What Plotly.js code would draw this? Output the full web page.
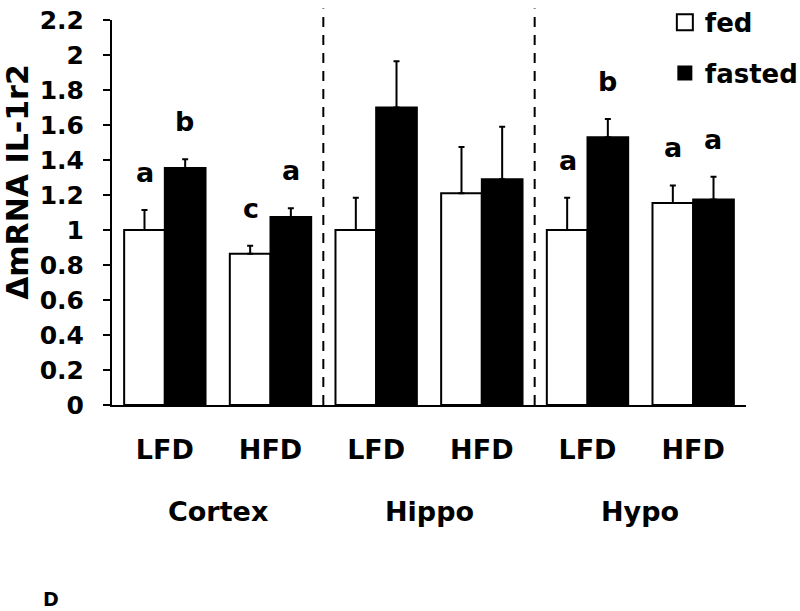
<!DOCTYPE html>
<html>
<head>
<meta charset="utf-8">
<script src="https://cdn.plot.ly/plotly-3.0.1.min.js"></script>
<style>
  html, body { margin: 0; padding: 0; background: white; }
  #chart { width: 800px; height: 611px; }
</style>
</head>
<body>
<div id="chart"></div>
<script>
// categories: region x diet
const regions = ['Cortex', 'Hippo', 'Hypo'];
const diets = ['LFD', 'HFD'];
const categories = ['Cortex LFD', 'Cortex HFD', 'Hippo LFD', 'Hippo HFD', 'Hypo LFD', 'Hypo HFD'];
const tickLabels = ['LFD', 'HFD', 'LFD', 'HFD', 'LFD', 'HFD'];

// delta mRNA IL-1r2 values
const fedValues = [1.00, 0.865, 1.00, 1.21, 1.00, 1.155];
const fedErrors = [0.115, 0.045, 0.185, 0.265, 0.185, 0.10];
const fastedValues = [1.355, 1.075, 1.70, 1.29, 1.53, 1.175];
const fastedErrors = [0.05, 0.05, 0.265, 0.30, 0.105, 0.13];

// significance letters
const fedLetters = ['a', 'c', '', '', 'a', 'a'];
const fastedLetters = ['b', 'a', '', '', 'b', 'a'];

// where the dashed dividers sit (between categories)
const dividers = [1.5, 3.5];
const regionCenters = [0.5, 2.5, 4.5];

const FONT = 'DejaVu Sans, Verdana, sans-serif';

const zeros = categories.map(() => 0);

const data = [
    {
        type: 'bar',
        x: categories,
        y: fedValues,
        name: 'fed',
        showlegend: false,
        marker: { color: 'white', line: { color: 'black', width: 2 } },
        error_y: { type: 'data', array: fedErrors, arrayminus: zeros, symmetric: false,
                   color: 'black', thickness: 2, width: 3 }
    },
    {
        type: 'bar',
        x: categories,
        y: fastedValues,
        name: 'fasted',
        showlegend: false,
        marker: { color: 'black', line: { color: 'black', width: 2 } },
        error_y: { type: 'data', array: fastedErrors, arrayminus: zeros, symmetric: false,
                   color: 'black', thickness: 2, width: 3 }
    },
    // legend-only entries, to get the bigger square symbols
    {
        type: 'scatter', mode: 'markers', x: [null], y: [null], name: 'fed',
        legendgroup: 'fed',
        marker: { symbol: 'square', size: 16, color: 'white', line: { color: 'black', width: 2 } }
    },
    {
        type: 'scatter', mode: 'markers', x: [null], y: [null], name: 'fasted',
        legendgroup: 'fasted',
        marker: { symbol: 'square', size: 15, color: 'black', line: { color: 'black', width: 0 } }
    }
];

const annotations = [];
categories.forEach((c, i) => {
    if (fedLetters[i]) {
        annotations.push({
            x: c, y: fedValues[i] + fedErrors[i], xref: 'x', yref: 'y',
            text: fedLetters[i], showarrow: false, xshift: -20, yanchor: 'bottom', yshift: 20,
            font: { family: FONT, size: 27, color: 'black', weight: 'bold' }
        });
    }
    if (fastedLetters[i]) {
        annotations.push({
            x: c, y: fastedValues[i] + fastedErrors[i], xref: 'x', yref: 'y',
            text: fastedLetters[i], showarrow: false, xshift: 20, yanchor: 'bottom', yshift: 20,
            font: { family: FONT, size: 27, color: 'black', weight: 'bold' }
        });
    }
});

regions.forEach((r, i) => {
    annotations.push({
        x: regionCenters[i], y: 0, xref: 'x', yref: 'paper',
        text: r, showarrow: false, yanchor: 'middle', yshift: -106,
        font: { family: FONT, size: 27, color: 'black', weight: 'bold' }
    });
});

// y axis title, placed by hand since it sits above the middle
annotations.push({
    x: -0.148, y: 0.58, xref: 'paper', yref: 'paper',
    text: 'ΔmRNA IL-1r2', showarrow: false, textangle: -90,
    xanchor: 'center', yanchor: 'middle',
    font: { family: FONT, size: 30, color: 'black', weight: 'bold' }
});

// panel letter
annotations.push({
    x: -0.096, y: -0.505, xref: 'paper', yref: 'paper',
    text: 'D', showarrow: false, xanchor: 'center', yanchor: 'middle',
    font: { family: FONT, size: 19, color: 'black', weight: 'bold' }
});

const shapes = dividers.map(d => ({
    type: 'line', xref: 'x', yref: 'paper',
    x0: d, x1: d, y0: 0, y1: 1.03,
    line: { color: 'black', width: 2, dash: '10px,8px' }
}));

const layout = {
    width: 800,
    height: 611,
    margin: { l: 112, r: 54, t: 20, b: 206, autoexpand: false },
    paper_bgcolor: 'white',
    plot_bgcolor: 'white',
    font: { family: FONT, color: 'black', weight: 'bold' },
    barmode: 'group',
    bargap: 0.23,
    bargroupgap: 0,
    showlegend: true,
    legend: {
        x: 0.872, y: 1.055, xanchor: 'left', yanchor: 'top',
        font: { family: FONT, size: 26, color: 'black', weight: 'bold' },
        tracegroupgap: 14,
        bgcolor: 'rgba(0,0,0,0)'
    },
    xaxis: {
        type: 'category',
        tickvals: categories,
        ticktext: tickLabels,
        showline: true, linecolor: 'black', linewidth: 2,
        ticks: '', showgrid: false, zeroline: false,
        tickfont: { family: FONT, size: 27, color: 'black', weight: 'bold' },
        ticklabelstandoff: 20,
        automargin: false,
        fixedrange: true
    },
    yaxis: {
        range: [0, 2.2],
        tick0: 0, dtick: 0.2,
        showline: true, linecolor: 'black', linewidth: 2,
        ticks: 'outside', ticklen: 7, tickwidth: 2, tickcolor: 'black',
        showgrid: false, zeroline: false,
        tickfont: { family: FONT, size: 25, color: 'black', weight: 'bold' },
        ticklabelstandoff: 14,
        automargin: false,
        fixedrange: true
    },
    annotations: annotations,
    shapes: shapes
};

Plotly.newPlot('chart', data, layout, { displayModeBar: false, staticPlot: true });
</script>
</body>
</html>
